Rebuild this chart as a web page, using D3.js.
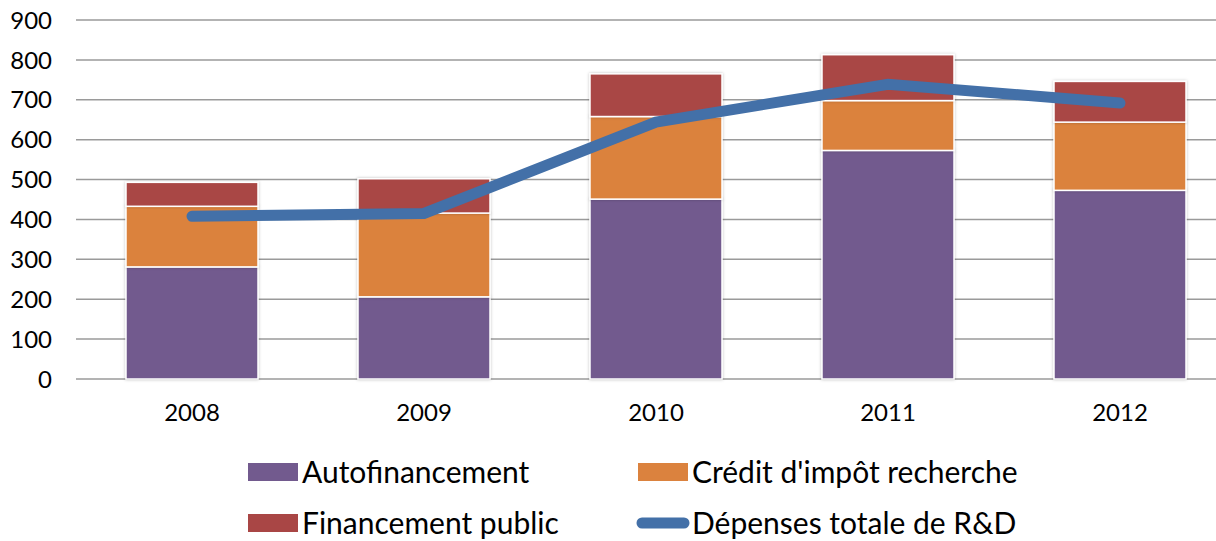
<!DOCTYPE html>
<html>
<head>
<meta charset="utf-8">
<script src="https://cdn.jsdelivr.net/npm/d3@7"></script>
<style>
  body { margin: 0; background: #fff; }
  svg { display: block; font-family: Lato, "Open Sans", sans-serif; }
</style>
</head>
<body>
<svg id="chart" width="1216" height="541"></svg>
<script>
const years = ['2008', '2009', '2010', '2011', '2012'];
const autofinancement = [281, 206, 451, 573, 473];
const creditImpot = [152, 210, 207, 125, 171];
const financementPublic = [60, 86, 107, 115, 102];
const depensesTotales = [408, 415, 644, 739, 692];
const yTicks = [0, 100, 200, 300, 400, 500, 600, 700, 800, 900];

const seriesNames = ['Autofinancement', "Crédit d'impôt recherche", 'Financement public'];
const colors = ['#725a8e', '#db823e', '#a94645'];
const lineColor = '#4370a8';

const svg = d3.select('#chart');
const margin = { top: 20, left: 76, bottom: 162 };
const plotRight = 1236;
const height = 541 - margin.top - margin.bottom;

const rows = years.map((y, i) => ({
    year: y,
    a: autofinancement[i],
    c: creditImpot[i],
    p: financementPublic[i]
}));
const stacked = d3.stack().keys(['a', 'c', 'p'])(rows);

const x = d3.scaleBand().domain(years).range([margin.left, plotRight]).paddingInner(0.431).paddingOuter(0.2155);
const y = d3.scaleLinear().domain([0, 900]).range([margin.top + height, margin.top]);

// grid
svg.append('g')
    .selectAll('line')
    .data(yTicks)
    .join('line')
    .attr('x1', margin.left)
    .attr('x2', 1216)
    .attr('y1', d => y(d))
    .attr('y2', d => y(d))
    .attr('stroke', '#9a9a9a')
    .attr('stroke-width', 1.5);

// y labels
svg.append('g')
    .selectAll('text')
    .data(yTicks)
    .join('text')
    .attr('x', 52)
    .attr('y', d => y(d))
    .attr('dy', '0.36em')
    .attr('text-anchor', 'end')
    .attr('font-size', 24)
    .attr('fill', '#000')
    .text(d => d);

// x labels
svg.append('g')
    .selectAll('text')
    .data(years)
    .join('text')
    .attr('x', d => x(d) + x.bandwidth() / 2)
    .attr('y', 421)
    .attr('text-anchor', 'middle')
    .attr('font-size', 24)
    .text(d => d);

// shadow filter for bars
const defs = svg.append('defs');
const f = defs.append('filter').attr('id', 'shadow').attr('x', '-10%').attr('y', '-10%').attr('width', '120%').attr('height', '120%');
f.append('feDropShadow').attr('dx', 0).attr('dy', 0).attr('stdDeviation', 1.5).attr('flood-color', '#000').attr('flood-opacity', 0.25);

// bars
svg.append('g')
    .selectAll('g')
    .data(stacked)
    .join('g')
    .attr('fill', (d, i) => colors[i])
    .selectAll('rect')
    .data(d => d)
    .join('rect')
    .attr('x', d => x(d.data.year))
    .attr('width', x.bandwidth())
    .attr('y', d => y(d[1]))
    .attr('height', d => y(d[0]) - y(d[1]))
    .attr('stroke', '#fff')
    .attr('stroke-width', 1.5)
    .attr('filter', 'url(#shadow)');

// total line
const line = d3.line()
    .x((d, i) => x(years[i]) + x.bandwidth() / 2)
    .y(d => y(d));
svg.append('path')
    .datum(depensesTotales)
    .attr('d', line)
    .attr('fill', 'none')
    .attr('stroke', lineColor)
    .attr('stroke-width', 11)
    .attr('stroke-linecap', 'round')
    .attr('stroke-linejoin', 'miter');

// legend
const legend = svg.append('g').attr('font-size', 30);
const legendItems = [
    { name: seriesNames[0], color: colors[0], type: 'rect', x: 248, y: 472 },
    { name: seriesNames[1], color: colors[1], type: 'rect', x: 638, y: 472 },
    { name: seriesNames[2], color: colors[2], type: 'rect', x: 248, y: 523 },
    { name: 'Dépenses totale de R&D', color: lineColor, type: 'line', x: 638, y: 523 }
];
legendItems.forEach(it => {
    if (it.type === 'rect') {
        legend.append('rect')
            .attr('x', it.x).attr('y', it.y - 9)
            .attr('width', 50).attr('height', 18)
            .attr('fill', it.color);
    } else {
        legend.append('line')
            .attr('x1', it.x + 4).attr('x2', it.x + 46)
            .attr('y1', it.y).attr('y2', it.y)
            .attr('stroke', it.color).attr('stroke-width', 11)
            .attr('stroke-linecap', 'round');
    }
    legend.append('text')
        .attr('x', it.x + 54)
        .attr('y', it.y)
        .attr('dy', '0.35em')
        .text(it.name);
});
</script>
</body>
</html>
